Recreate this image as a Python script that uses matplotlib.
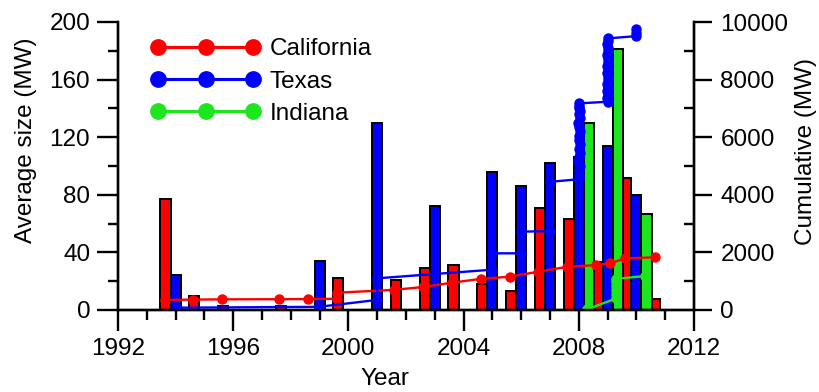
import matplotlib
matplotlib.use("Agg")  # headless
import matplotlib.pyplot as plt
from matplotlib.ticker import MultipleLocator

plt.rcParams["font.family"] = ["Liberation Sans", "DejaVu Sans"]

RED, BLUE, GREEN = "#ff0000", "#0000ff", "#1ee61e"

# Average project size per year (MW), left axis
ca_years = [1994, 1995, 1996, 1998, 2000, 2002, 2003, 2004, 2005, 2006, 2007, 2008, 2009, 2010, 2011]
ca_size = [77, 10, 3, 3, 22, 21, 29, 31, 18, 13.5, 71, 63, 33, 92, 7.5]
tx_years = [1994, 1999, 2001, 2003, 2005, 2006, 2007, 2008, 2009, 2010]
tx_size = [24.5, 34, 130, 72, 96, 86, 102, 106, 114, 80]
in_years = [2008, 2009, 2010]
in_size = [130, 181, 67]

# Cumulative capacity (MW), right axis, one point per project
ca_cum_t = [1993.62, 1994.6, 1995.6, 1997.6, 1998.6, 1999.6, 1999.6, 2001.6, 2002.6,
            2003.6, 2004.6, 2005.6, 2006.6, 2007.6, 2008.6, 2009.1, 2009.6, 2010.65]
ca_cum = [350, 360, 370, 375, 380, 390, 600, 700, 800,
          950, 1080, 1157, 1330, 1500, 1560, 1620, 1790, 1830]

tx_cum_t = [1994.0, 1994.05, 1998.97, 2001.0, 2001.0, 2005.0, 2005.0, 2006.0, 2006.0,
            2007.0, 2007.0, 2008.0,
            2008.02, 2007.99, 2008.03, 2007.98, 2008.02, 2008.04, 2008.0, 2008.03,
            2007.99, 2008.02, 2008.05, 2008.01, 2007.98, 2008.03, 2008.01, 2008.04,
            2007.99, 2008.02, 2008.0,
            2009.0, 2008.98, 2009.02, 2008.99, 2009.03, 2008.98, 2009.01, 2009.03,
            2008.99, 2009.02, 2008.98, 2009.01, 2009.03, 2008.99, 2009.02, 2009.0,
            2008.98, 2009.01, 2009.0,
            2010.0, 2010.0, 2010.0]
tx_cum = [10, 80, 110, 350, 1100, 1400, 1968, 1968, 2720,
          2740, 4450, 4540,
          4700, 4850, 5000, 5150, 5300, 5450, 5600, 5750,
          5900, 6050, 6200, 6350, 6500, 6650, 6800, 6900,
          7000, 7100, 7175,
          7230, 7350, 7480, 7600, 7720, 7850, 7980, 8100,
          8230, 8350, 8480, 8600, 8720, 8850, 8980, 9100,
          9220, 9330, 9430,
          9510, 9610, 9750]

in_cum_t = [2008.3, 2009.3, 2009.3, 2009.3, 2009.3, 2009.3, 2009.3, 2010.3]
in_cum = [30, 400, 560, 700, 850, 980, 1080, 1180]

BAR_W = 0.35
FS = 17.5

fig = plt.figure(figsize=(8.2, 3.92), dpi=100)
ax = fig.add_axes([118 / 820, 1 - 310 / 392, 576 / 820, 288 / 392])
ax2 = ax.twinx()

bar_kw = dict(width=BAR_W, edgecolor="black", linewidth=1.4, zorder=2)
ax.bar([y - BAR_W for y in ca_years], ca_size, color=RED, **bar_kw)
ax.bar(tx_years, tx_size, color=BLUE, **bar_kw)
ax.bar([y + BAR_W for y in in_years], in_size, color=GREEN, **bar_kw)

line_kw = dict(linewidth=1.7, marker="o", markersize=6.5)
ax2.plot(ca_cum_t, ca_cum, color=RED, label="California", **line_kw)
ax2.plot(tx_cum_t, tx_cum, color=BLUE, label="Texas", **line_kw)
ax2.plot(in_cum_t, in_cum, color=GREEN, label="Indiana", **line_kw)

ax.set_xlim(1992, 2012)
ax.set_ylim(0, 200)
ax2.set_ylim(0, 10000)

ax.xaxis.set_major_locator(MultipleLocator(4))
ax.xaxis.set_minor_locator(MultipleLocator(1))
ax.yaxis.set_major_locator(MultipleLocator(40))
ax.yaxis.set_minor_locator(MultipleLocator(20))
ax2.yaxis.set_major_locator(MultipleLocator(2000))
ax2.yaxis.set_minor_locator(MultipleLocator(1000))

for a in (ax, ax2):
    a.spines["top"].set_visible(False)
    for s in ("left", "right", "bottom"):
        a.spines[s].set_linewidth(1.7)

ax.tick_params(which="major", direction="out", length=15, width=1.7, labelsize=FS, pad=5)
ax.tick_params(which="minor", direction="out", length=7.5, width=1.7)
ax.tick_params(axis="y", which="both", right=False)
ax.tick_params(axis="x", which="both", top=False)
ax2.tick_params(axis="y", which="major", direction="out", length=13, width=1.7, labelsize=FS, pad=6)
ax2.tick_params(axis="y", which="minor", direction="in", length=7.5, width=1.7)

ax.set_xlabel("Year", fontsize=FS)
ax.xaxis.set_label_coords(0.4635, -0.2)
ax.set_ylabel("Average size (MW)", fontsize=FS)
ax.yaxis.set_label_coords(-0.14, 0.59)
ax2.set_ylabel("Cumulative (MW)", fontsize=FS)
ax2.yaxis.set_label_coords(1.175, 0.55)

leg = ax2.legend(loc="upper left", bbox_to_anchor=(0.057, 0.943), frameon=False,
                 numpoints=3, handlelength=4.5, handletextpad=0.4, labelspacing=0.42,
                 borderpad=0, borderaxespad=0, markerscale=1.7, fontsize=FS)
for ln in leg.get_lines():
    ln.set_linewidth(2.2)

fig.savefig("out.png", dpi=100)
